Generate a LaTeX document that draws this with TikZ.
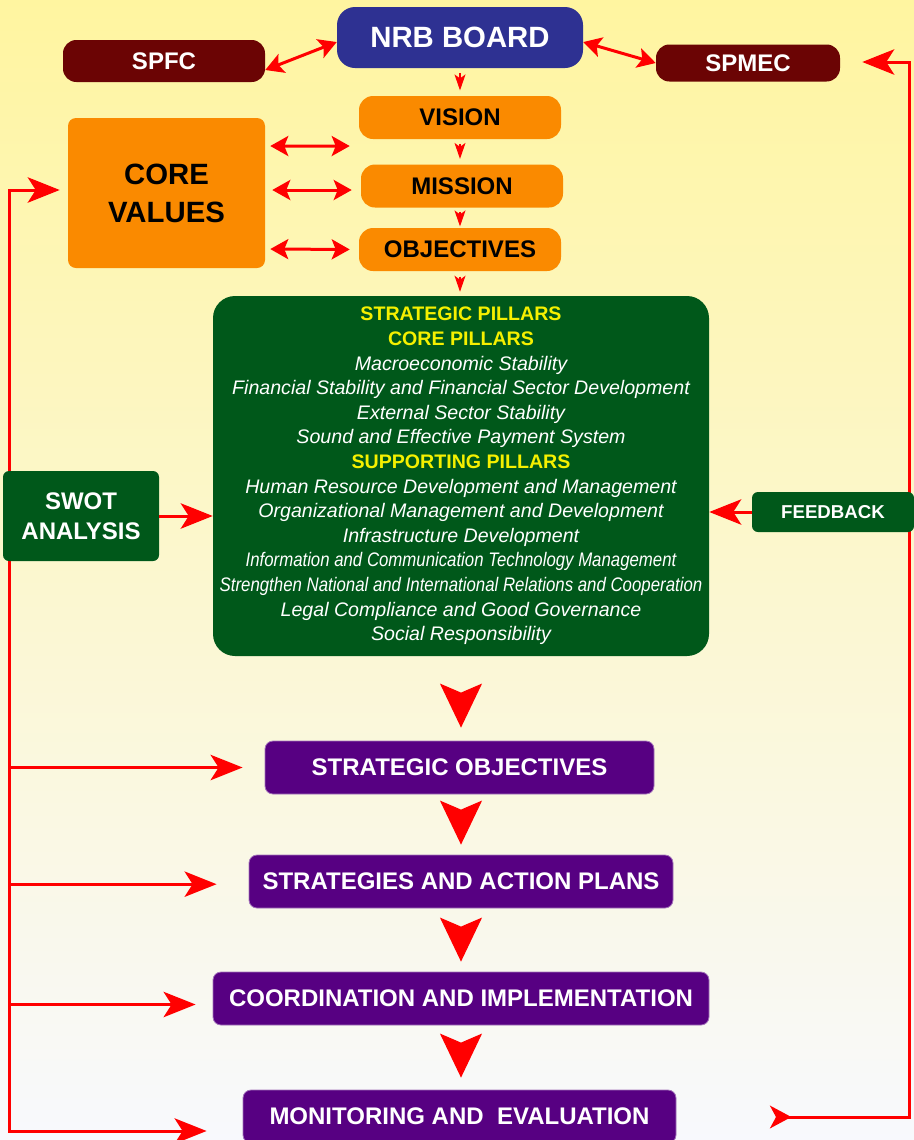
\documentclass[tikz,border=0pt]{standalone}
\usepackage{fontspec}
\setmainfont{Liberation Sans}
\usepackage{graphicx}
\usetikzlibrary{arrows.meta}

\definecolor{nrbblue}{RGB}{46,49,146}
\definecolor{councilred}{RGB}{107,4,4}
\definecolor{tierorange}{RGB}{250,138,0}
\definecolor{pillargreen}{RGB}{0,88,26}
\definecolor{pillaryellow}{RGB}{245,240,0}
\definecolor{planpurple}{RGB}{87,0,130}
\definecolor{linkred}{RGB}{255,0,0}
\definecolor{bgtop}{RGB}{255,245,160}
\definecolor{bgmid}{RGB}{255,252,226}
\definecolor{bgbot}{RGB}{248,249,253}

\newcommand\pillarhead[1]{{\color{pillaryellow}\upshape\bfseries #1}}

\tikzset{
    card/.style={rectangle, align=center, inner sep=0pt},
    board/.style={card, fill=nrbblue, text=white, rounded corners=13.5pt,
        font=\fontsize{22pt}{26pt}\selectfont\bfseries},
    council/.style={card, fill=councilred, text=white, rounded corners=10pt,
        font=\fontsize{18pt}{21pt}\selectfont\bfseries},
    tier/.style={card, fill=tierorange, rounded corners=10.5pt,
        minimum width=151.5pt, minimum height=32.25pt,
        font=\fontsize{18pt}{21pt}\selectfont\bfseries},
    values/.style={card, fill=tierorange, rounded corners=6pt,
        minimum width=147.75pt, minimum height=112.5pt,
        font=\fontsize{22pt}{28.5pt}\selectfont\bfseries},
    pillars/.style={card, fill=pillargreen, text=white, rounded corners=16.5pt,
        minimum width=372pt, minimum height=270pt,
        font=\fontsize{14.7pt}{18.45pt}\selectfont\itshape},
    side/.style={card, fill=pillargreen, text=white, rounded corners=4.5pt,
        font=\fontsize{18pt}{22.5pt}\selectfont\bfseries},
    plan/.style={card, fill=planpurple, draw=planpurple!55!white, line width=0.6pt,
        text=white, rounded corners=6pt, minimum height=39.75pt,
        font=\fontsize{18pt}{21pt}\selectfont\bfseries},
    busline/.style={draw=linkred, line width=2.25pt, line cap=rect},
    sidearr/.style={draw=linkred, line width=2.25pt,
        -{Stealth[length=24pt, width=19pt, inset=6pt]}},
    dblarr/.style={draw=linkred, line width=2.25pt,
        {Stealth[length=13.5pt, width=15pt, inset=3pt]}-{Stealth[length=13.5pt, width=15pt, inset=3pt]}},
    smallarr/.style={draw=linkred, line width=0.8pt,
        -{Stealth[length=12pt, width=8.25pt, inset=3pt]}},
    bigarr/.style={draw=linkred, line width=0.8pt,
        -{Stealth[length=33pt, width=31.5pt, inset=6.75pt]}}
}

\begin{document}
\begin{tikzpicture}[x=0.75pt, y=-0.75pt]
    \shade[top color=bgtop, middle color=bgmid, bottom color=bgbot] (0,0) rectangle (914,1140);
    \useasboundingbox (0,0) rectangle (914,1140);

    \coordinate (ltop) at (9,190);
    \coordinate (lbot) at (9,1131);
    \coordinate (rtop) at (909,62);
    \coordinate (rbot) at (909,1117);
    \coordinate (mout) at (770,1117);
    \draw[busline] (ltop) -- (lbot);
    \draw[busline] (rbot) -- (rtop);

    \node[board, minimum width=184.5pt, minimum height=45.75pt] (nrb) at (460,37.5) {NRB BOARD};
    \node[council, minimum width=151.5pt, minimum height=31.5pt] (spfc) at (164,61) {SPFC};
    \node[council, minimum width=138pt, minimum height=27.75pt] (spmec) at (748,63) {SPMEC};
    \node[tier] (vision) at (460,117.5) {VISION};
    \node[tier] (mission) at (462,186) {MISSION};
    \node[tier] (objectives) at (460,249.5) {OBJECTIVES};
    \node[values] (cv) at (166.5,193) {CORE\\VALUES};
    \node[pillars] (pillars) at (461,476) {%
        \pillarhead{STRATEGIC PILLARS}\\
        \pillarhead{CORE PILLARS}\\
        Macroeconomic Stability\\
        Financial Stability and Financial Sector Development\\
        External Sector Stability\\
        Sound and Effective Payment System\\
        \pillarhead{SUPPORTING PILLARS}\\
        Human Resource Development and Management\\
        Organizational Management and Development\\
        Infrastructure Development\\
        \resizebox{323pt}{\height}{Information and Communication Technology Management}\\
        \resizebox{362pt}{\height}{Strengthen National and International Relations and Cooperation}\\
        Legal Compliance and Good Governance\\
        Social Responsibility};
    \node[side, minimum width=117pt, minimum height=67.5pt] (swot) at (81,516) {SWOT\\ANALYSIS};
    \node[side, minimum width=121.5pt, minimum height=30pt,
        font=\fontsize{14pt}{17pt}\selectfont\bfseries] (feedback) at (833,512) {FEEDBACK};
    \node[plan, minimum width=291.75pt] (so) at (459.5,767.5) {STRATEGIC OBJECTIVES};
    \node[plan, minimum width=318pt] (sap) at (461,881.5) {STRATEGIES AND ACTION PLANS};
    \node[plan, minimum width=372pt] (ci) at (461,998.5) {COORDINATION AND IMPLEMENTATION};
    \node[plan, minimum width=324.75pt] (me) at (459.5,1116.5) {MONITORING AND\ \ EVALUATION};

    \draw[dblarr] ([yshift=-6.75pt]spfc.east) -- ([yshift=-3.4pt]nrb.west);
    \draw[dblarr] ([yshift=-3.4pt]nrb.east) -- (spmec.west);
    \draw[dblarr, shorten <=3.75pt, shorten >=6.75pt] ([yshift=35.25pt]cv.east) -- ([yshift=-21.4pt]vision.west);
    \draw[dblarr, shorten <=5.25pt, shorten >=6.75pt] ([yshift=2.25pt]cv.east) -- ([yshift=-3pt]mission.west);
    \draw[dblarr, shorten <=3.75pt, shorten >=6.75pt] ([yshift=-42pt]cv.east) -- (objectives.west);

    \draw[smallarr, shorten <=3.5pt, shorten >=4pt] (nrb) -- (vision);
    \draw[smallarr, shorten <=3.5pt, shorten >=4pt] (vision) -- (mission.north -| vision.south);
    \draw[smallarr, shorten <=3pt, shorten >=1pt] (mission.south -| vision.south) -- (objectives);
    \draw[smallarr, shorten <=4pt, shorten >=3pt] (objectives) -- (objectives.south |- pillars.north);

    \draw[bigarr, shorten <=27.75pt, shorten >=9.75pt] (pillars.south) -- (pillars.south |- so.north);
    \draw[bigarr, shorten <=12pt, shorten >=7.5pt] (so.south -| pillars.south) -- (pillars.south |- sap.north);
    \draw[bigarr, shorten <=14.25pt, shorten >=7.5pt] (sap.south -| pillars.south) -- (pillars.south |- ci.north);
    \draw[bigarr, shorten <=13.5pt, shorten >=9pt] (ci.south -| pillars.south) -- (pillars.south |- me.north);

    \draw[sidearr, shorten >=6pt] (ltop) -- (ltop -| cv.west);
    \draw[sidearr, shorten >=16.5pt] (ltop |- so.west) -- (so.west);
    \draw[sidearr, shorten >=24pt] ([yshift=-2pt]ltop |- sap.west) -- ([yshift=-2pt]sap.west);
    \draw[sidearr, shorten >=12.75pt] ([yshift=-4.5pt]ltop |- ci.west) -- ([yshift=-4.5pt]ci.west);
    \draw[sidearr, shorten >=27pt] (lbot) -- (lbot -| me.west);
    \draw[sidearr] (swot.east) -- (swot.east -| pillars.west);
    \draw[sidearr] (feedback.west) -- (feedback.west -| pillars.east);
    \draw[sidearr, shorten >=16.5pt] (rtop) -- (rtop -| spmec.east);
    \draw[busline, line cap=butt, {Stealth[reversed, length=16pt, width=17pt, inset=4.5pt]}-] (mout) -- (rbot);
\end{tikzpicture}
\end{document}
